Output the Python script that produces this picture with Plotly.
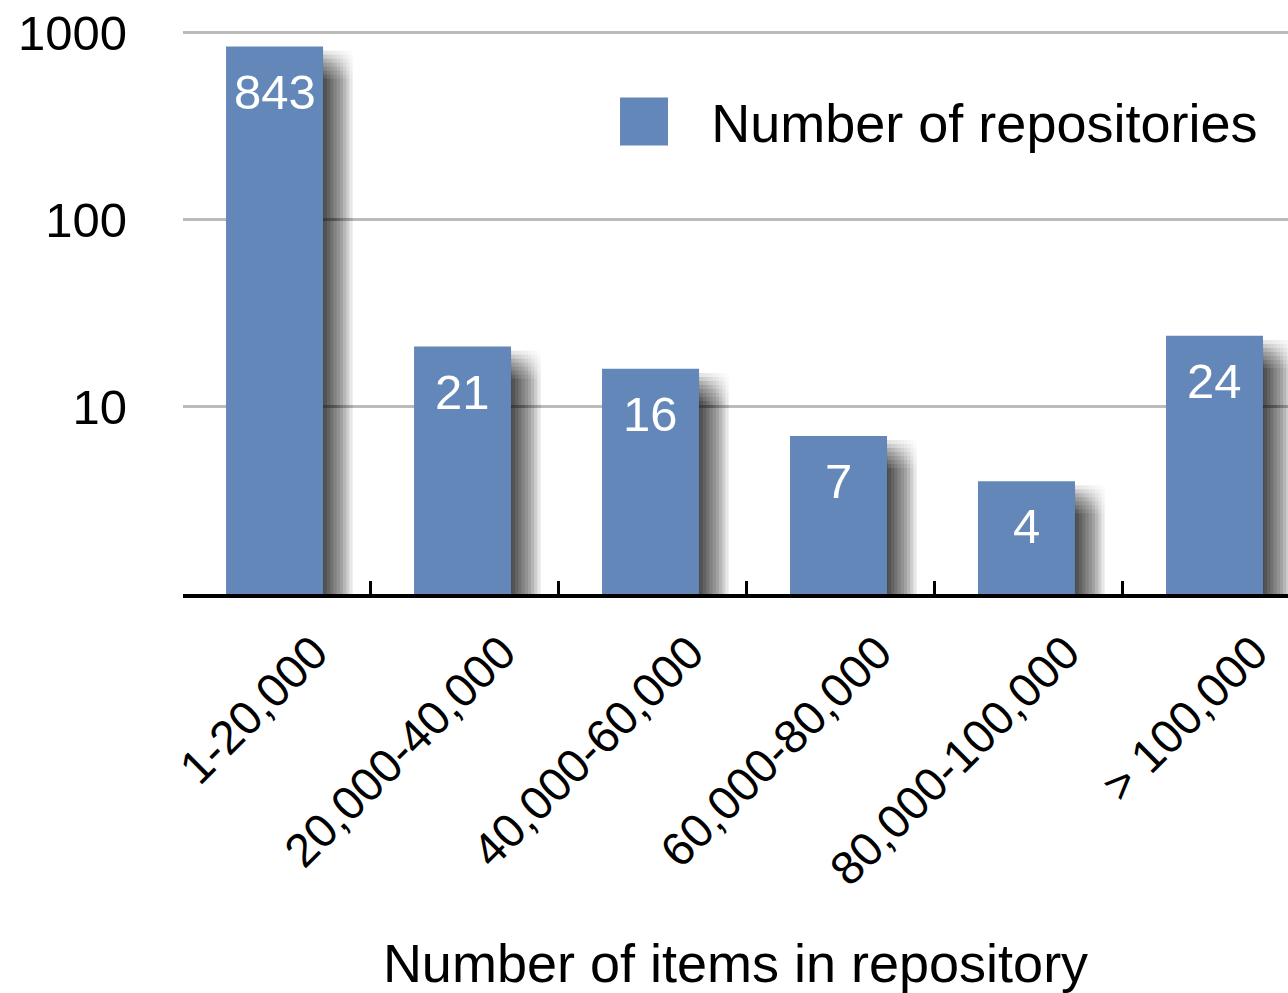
import math
import plotly.graph_objects as go

categories = ["1-20,000", "20,000-40,000", "40,000-60,000", "60,000-80,000", "80,000-100,000", "> 100,000"]
repositories = [843, 21, 16, 7, 4, 24]
y_tickvals = [10, 100, 1000]
y_ticktext = ["10", "100", "1000"]

BAR = "#6287B8"
FONT = "Liberation Sans, Arial, Helvetica, sans-serif"

# plot geometry (pixels) used to express the drop-shadow offsets
PLOT_W, PLOT_H = 1105, 580
Y_RANGE = [0, 3.1]
X_RANGE = [-0.5, 5.378]
PX_PER_CAT = PLOT_W / (X_RANGE[1] - X_RANGE[0])
PX_PER_DECADE = PLOT_H / (Y_RANGE[1] - Y_RANGE[0])

bar_w = 0.516
bar_off = -0.271
bar_centre = bar_off + bar_w / 2

fig = go.Figure()

# soft drop shadow to the lower right of each bar: a grid of translucent
# layers (right-edge reach x top-edge drop) gives a smooth separable fade
right_steps = [1 + 3.2 * i for i in range(10)]
top_steps = [4 + 4.0 * j for j in range(8)]
for r_px in right_steps:
    for t_px in top_steps:
        left = bar_off + 6 / PX_PER_CAT
        right = bar_off + bar_w + r_px / PX_PER_CAT
        factor = 10 ** (-t_px / PX_PER_DECADE)
        fig.add_trace(go.Bar(
            x=categories, y=[v * factor for v in repositories],
            width=right - left, offset=left,
            marker=dict(color="rgba(0,0,0,0.0115)", line=dict(width=0)),
            showlegend=False, hoverinfo="skip",
        ))

fig.add_trace(go.Bar(
    x=categories, y=repositories, name="Number of repositories",
    width=bar_w, offset=bar_off,
    marker=dict(color=BAR, line=dict(width=0)),
    hovertemplate="%{x}: %{y}<extra></extra>",
))

# value labels inside the top of each bar
for cat, v in zip(categories, repositories):
    fig.add_annotation(
        x=cat, y=math.log10(v), xref="x", yref="y",
        text=str(v), showarrow=False, yanchor="middle",
        yshift=-45, xshift=bar_centre * PX_PER_CAT,
        font=dict(color="white", size=49, family=FONT),
    )

# enlarged legend swatch (sits under the legend's own swatch, same colour)
fig.add_shape(type="rect", xref="paper", yref="paper", layer="above",
              x0=0.3955, x1=0.4389, y0=0.7733, y1=0.8560,
              fillcolor=BAR, line=dict(width=0))

fig.update_layout(
    width=1288, height=993,
    margin=dict(l=183, r=0, t=14, b=399, autoexpand=False),
    paper_bgcolor="white", plot_bgcolor="white",
    barmode="overlay",
    font=dict(family=FONT, color="black"),
    showlegend=True,
    legend=dict(
        x=0.355, y=0.8147, xanchor="left", yanchor="middle",
        font=dict(size=54, color="black"), itemwidth=126,
        bgcolor="rgba(0,0,0,0)",
    ),
    xaxis=dict(
        type="category", range=X_RANGE,
        showline=True, linecolor="black", linewidth=4,
        ticks="inside", tickson="boundaries", ticklen=13, tickwidth=3, tickcolor="black",
        tickangle=-45, tickfont=dict(size=47),
        ticklabelstandoff=8, ticklabelshift=37,
        showgrid=False, automargin=False,
        title=dict(text="Number of items in repository", font=dict(size=54), standoff=58),
    ),
    yaxis=dict(
        type="log", range=Y_RANGE,
        tickvals=y_tickvals, ticktext=y_ticktext,
        tickfont=dict(size=49), ticks="", ticklabelstandoff=55,
        ticklabeloverflow="allow",
        showgrid=True, gridcolor="#BBBBBB", gridwidth=3,
        showline=False, zeroline=False, automargin=False,
    ),
)

fig.write_html("out.html", config={"displayModeBar": False},
               post_script="document.body.style.margin='0';")
